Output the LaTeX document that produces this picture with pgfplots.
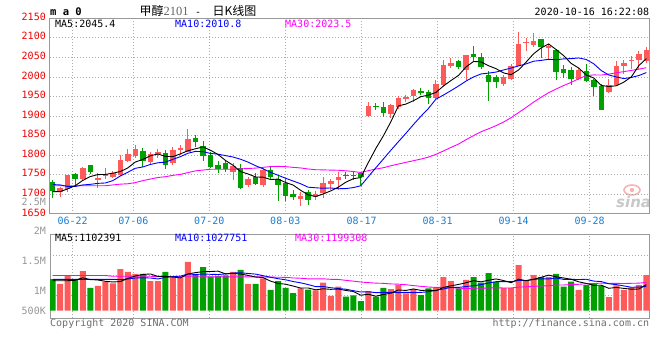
\documentclass[border=0pt]{standalone}
\usepackage{fontspec}
\setmainfont{DejaVu Sans}
\setmonofont{DejaVu Sans Mono}
\newfontfamily\cjk{Noto Sans CJK SC}
\newfontfamily\lserif{Liberation Serif}
\usepackage{pgfplots}
\usepackage{pgfplotstable}
\pgfplotsset{compat=1.18}

\definecolor{cup}{RGB}{255,90,90}
\definecolor{cdn}{RGB}{0,160,0}
\definecolor{gridc}{RGB}{170,170,170}
\definecolor{framec}{RGB}{153,153,153}
\definecolor{datec}{RGB}{25,125,210}
\definecolor{pricec}{RGB}{240,0,0}
\definecolor{volc}{RGB}{150,150,150}
\definecolor{ma10c}{RGB}{0,0,255}
\definecolor{ma30c}{RGB}{255,0,255}
\definecolor{titgray}{RGB}{100,100,100}
\definecolor{cpc}{RGB}{110,110,110}
\definecolor{wmc}{RGB}{200,200,200}
\definecolor{wmpink}{RGB}{245,180,180}

\newcommand{\mf}{\ttfamily\fontsize{10bp}{12bp}\selectfont}

% up (red) candles: index, open, high, low, close, volume
\pgfplotstableread{
i O H L C V
1 1707 1720 1693 1716 1136000
2 1714 1750 1707 1749 1508000
4 1738 1771 1733 1766 1678000
6 1737 1754 1716 1741 1051000
7 1747 1766 1738 1751 1237000
8 1744 1760 1742 1755 1153000
9 1749 1801 1746 1787 1763000
10 1786 1816 1782 1804 1644000
11 1797 1826 1794 1816 1559000
13 1782 1808 1778 1802 1254000
14 1803 1816 1792 1809 1254000
16 1779 1820 1775 1813 1407000
17 1813 1826 1801 1819 1407000
18 1809 1866 1808 1842 2068000
24 1758 1780 1737 1773 1644000
26 1724 1744 1719 1740 1136000
28 1723 1766 1720 1762 1373000
33 1687 1706 1670 1695 949000
35 1693 1708 1685 1702 864000
36 1703 1744 1691 1729 1186000
37 1726 1740 1710 1733 627000
38 1736 1757 1710 1743 1017000
42 1900 1935 1898 1925 831000
45 1905 1930 1896 1928 915000
46 1923 1951 1919 1946 1085000
47 1943 1955 1937 1948 729000
48 1950 1970 1936 1966 915000
51 1947 1991 1944 1981 983000
52 1980 2044 1977 2030 1424000
53 2028 2049 2024 2036 1254000
55 2018 2057 1993 2055 1305000
60 1981 2004 1976 2001 966000
61 1994 2032 1991 2029 966000
62 2028 2116 2027 2085 1932000
63 2086 2099 2066 2088 1254000
64 2082 2113 2076 2093 1508000
66 2075 2085 2042 2079 1424000
70 1994 2023 1991 2017 881000
74 1962 1994 1959 1980 576000
75 1979 2040 1976 2027 1068000
76 2028 2044 2008 2036 881000
77 2040 2053 2021 2042 983000
78 2044 2065 2021 2058 1085000
79 2041 2076 2036 2070 1508000
}\up

% down (green) candles
\pgfplotstableread{
i O H L C V
0 1732 1737 1690 1708 1339000
3 1752 1755 1725 1739 1305000
5 1775 1776 1751 1757 966000
12 1811 1819 1770 1784 1559000
15 1806 1813 1765 1774 1644000
19 1843 1852 1822 1834 1542000
20 1824 1835 1784 1797 1847000
21 1801 1809 1767 1771 1441000
22 1775 1784 1755 1765 1475000
23 1781 1788 1758 1765 1492000
25 1768 1777 1714 1717 1729000
27 1743 1755 1723 1727 1136000
29 1762 1770 1736 1743 881000
30 1740 1746 1683 1723 1254000
31 1729 1740 1682 1696 966000
32 1700 1710 1686 1694 746000
34 1706 1710 1674 1685 898000
39 1749 1757 1738 1747 593000
40 1750 1759 1737 1748 644000
41 1755 1758 1724 1743 407000
43 1925 1933 1915 1923 593000
44 1923 1935 1898 1908 966000
49 1965 1971 1953 1960 661000
50 1961 1967 1932 1947 949000
54 2040 2042 2021 2025 949000
56 2059 2080 2038 2051 1424000
57 2052 2062 2021 2025 1186000
58 2006 2014 1938 1987 1593000
59 2001 2005 1972 1987 1220000
65 2096 2097 2049 2076 1424000
67 2070 2072 1993 2013 1559000
68 2019 2031 1996 2010 1017000
69 2017 2025 1980 1994 1237000
71 2014 2034 1987 1990 1085000
72 1991 1994 1951 1975 1153000
73 1976 1983 1915 1915 1051000
}\dn

% moving averages: price MA5/10/30, volume MA5/10/30
\pgfplotstableread{
i m5 m10 m30 v5 v10 v30
0 1707 1725 1722 1270000 1330000 1490000
1 1707 1724 1722 1270000 1330000 1490000
2 1714 1720 1722 1270000 1330000 1490000
3 1722 1720 1722 1290000 1330000 1490000
4 1735.6 1724 1722 1393000 1330000 1490000
5 1745.4 1725.5 1722 1319000 1330000 1490000
6 1750.4 1728 1722 1302000 1330000 1490000
7 1750.8 1729 1722 1247000 1330000 1490000
8 1754.0 1735 1724 1217000 1330000 1460000
9 1758.2 1746.9 1726 1234000 1314000 1460000
10 1767.6 1756.5 1727 1369000 1344000 1460000
11 1782.6 1766.5 1730 1471000 1386000 1460000
12 1789.2 1770.0 1735 1536000 1392000 1460000
13 1798.6 1776.3 1739 1556000 1386000 1460000
14 1803.0 1780.6 1743 1454000 1344000 1440000
15 1797.0 1782.3 1745 1454000 1412000 1440000
16 1796.4 1789.5 1748.5 1424000 1447000 1440000
17 1803.4 1796.3 1751 1393000 1464000 1440000
18 1811.4 1805.0 1755.5 1556000 1556000 1440000
19 1816.4 1809.7 1760 1614000 1534000 1440000
20 1821.0 1809.0 1762 1654000 1554000 1440000
21 1812.6 1804.5 1764 1661000 1542000 1430000
22 1801.8 1802.6 1764 1675000 1534000 1430000
23 1786.4 1798.9 1764 1559000 1558000 1430000
24 1774.2 1795.3 1764 1580000 1597000 1430000
25 1758.2 1789.6 1765 1556000 1605000 1430000
26 1752.0 1782.3 1766 1495000 1578000 1430000
27 1744.4 1773.1 1767 1427000 1551000 1430000
28 1743.8 1765.1 1769 1403000 1482000 1430000
29 1737.8 1756.0 1770.9 1251000 1415000 1421000
30 1739.0 1748.6 1771.4 1156000 1356000 1418000
31 1730.2 1741.1 1770.7 1122000 1309000 1412000
32 1723.6 1734.0 1768.9 1044000 1236000 1387000
33 1710.2 1727.0 1767.4 959000 1181000 1375000
34 1698.6 1718.2 1764.7 963000 1107000 1349000
35 1694.4 1716.7 1762.9 885000 1020000 1346000
36 1701.0 1715.6 1762.5 929000 1025000 1350000
37 1708.8 1716.2 1761.9 905000 974000 1330000
38 1718.4 1714.3 1761.5 919000 939000 1325000
39 1730.8 1714.7 1760.1 858000 910000 1286000
40 1740.0 1717.2 1758.3 814000 849000 1253000
41 1742.8 1721.9 1755.8 658000 793000 1215000
42 1781.2 1745.0 1760.5 698000 802000 1190000
43 1817.2 1767.8 1764.6 614000 766000 1168000
44 1849.4 1790.1 1767.9 688000 773000 1159000
45 1885.4 1812.7 1773.0 742000 778000 1134000
46 1926.0 1834.4 1777.4 878000 768000 1124000
47 1930.6 1855.9 1781.7 858000 778000 1101000
48 1939.2 1878.2 1785.9 922000 768000 1063000
49 1949.6 1899.5 1790.1 861000 775000 1033000
50 1953.4 1919.4 1795.1 868000 805000 1003000
51 1960.4 1943.2 1802.1 847000 863000 988000
52 1976.8 1953.7 1810.9 986000 922000 986000
53 1990.8 1965.0 1819.9 1054000 988000 979000
54 2003.8 1976.7 1828.3 1112000 986000 955000
55 2025.4 1989.4 1839.6 1183000 1025000 941000
56 2039.4 1999.9 1850.0 1271000 1059000 951000
57 2038.4 2007.6 1859.9 1224000 1105000 952000
58 2028.6 2009.7 1867.4 1292000 1173000 960000
59 2021.0 2012.4 1875.5 1346000 1229000 971000
60 2010.2 2017.8 1884.8 1278000 1230000 962000
61 2005.8 2022.6 1895.9 1186000 1229000 962000
62 2017.8 2028.1 1908.9 1336000 1280000 1001000
63 2038.0 2033.3 1922.0 1268000 1280000 1011000
64 2059.2 2040.1 1935.6 1325000 1335000 1032000
65 2074.2 2042.2 1948.1 1417000 1347000 1050000
66 2084.2 2045.0 1959.8 1508000 1347000 1058000
67 2069.8 2043.8 1969.1 1434000 1385000 1089000
68 2054.2 2046.1 1978.0 1386000 1327000 1089000
69 2034.4 2046.8 1986.2 1332000 1329000 1111000
70 2022.6 2048.4 1995.2 1224000 1320000 1119000
71 2004.8 2044.5 2003.4 1156000 1332000 1141000
72 1997.2 2033.5 2005.1 1075000 1254000 1152000
73 1978.2 2016.2 2004.8 1081000 1234000 1167000
74 1975.4 2004.9 2007.2 949000 1141000 1154000
75 1977.4 2000.0 2010.5 986000 1105000 1159000
76 1986.6 1995.7 2013.5 946000 1051000 1152000
77 2000.2 1998.7 2016.6 912000 993000 1161000
78 2028.8 2003.5 2019.7 919000 1000000 1167000
79 2046.8 2011.1 2023.5 1105000 1027000 1199000
}\ma

\pgfplotsset{
  sinagrid/.style={
    grid=major,
    major grid style={draw=gridc, line width=0.8bp, dash pattern=on 1bp off 2bp},
    axis line style={draw=framec, line width=1bp},
    tick style={draw=none},
    major tick length=0pt,
    scale only axis,
    anchor=south west,
    width=599.3bp,
    xmin=-0.36, xmax=79.39,
    xtick={2.661,10.725,20.838,30.951,41.118,51.231,61.344,71.457},
  },
}

\begin{document}
\begin{tikzpicture}
\useasboundingbox (0,0) rectangle (660bp,360bp);

% watermark
\draw[wmpink, line width=1.6bp] (632bp,170bp) ellipse (8bp and 5bp);
\fill[wmpink] (632bp,170bp) circle (2.2bp);
\node[anchor=base west, inner sep=0pt, text=wmc, font=\bfseries\itshape\fontsize{15bp}{16bp}\selectfont] at (616bp,152bp) {sina};

% price panel
\begin{axis}[sinagrid,
  at={(50bp,146.1bp)}, height=195.7bp,
  ymin=1650, ymax=2150,
  xticklabels={06-22,07-06,07-20,08-03,08-17,08-31,09-14,09-28},
  ytick={1650,1700,1750,1800,1850,1900,1950,2000,2050,2100,2150},
  yticklabels={1650,1700,1750,1800,1850,1900,1950,2000,2050,2100,2150},
  xticklabel style={font=\mf, text=datec, anchor=north, inner sep=0pt, yshift=-3.2bp},
  yticklabel style={font=\mf, text=pricec, anchor=east, inner sep=0pt, xshift=-4bp, yshift=1.5bp},
]
% wicks
\addplot [draw=none, mark=none, error bars/.cd, y dir=plus, y explicit, error mark=none,
  error bar style={draw=cup, solid, line width=1bp}]
  table [x=i, y=L, y error expr=\thisrow{H}-\thisrow{L}] {\up};
\addplot [draw=none, mark=none, error bars/.cd, y dir=plus, y explicit, error mark=none,
  error bar style={draw=cdn, solid, line width=1bp}]
  table [x=i, y=L, y error expr=\thisrow{H}-\thisrow{L}] {\dn};
% bodies
\addplot [draw=none, mark=none, error bars/.cd, y dir=plus, y explicit, error mark=none,
  error bar style={draw=cup, solid, line width=5.5bp}]
  table [x=i, y=O, y error expr=\thisrow{C}-\thisrow{O}] {\up};
\addplot [draw=none, mark=none, error bars/.cd, y dir=plus, y explicit, error mark=none,
  error bar style={draw=cdn, solid, line width=5.5bp}]
  table [x=i, y=C, y error expr=\thisrow{O}-\thisrow{C}] {\dn};
% moving averages
\addplot [ma30c, line width=0.9bp, mark=none] table [x=i, y=m30] {\ma};
\addplot [ma10c, line width=0.9bp, mark=none] table [x=i, y=m10] {\ma};
\addplot [black, line width=0.9bp, mark=none] table [x=i, y=m5] {\ma};
\end{axis}

% volume panel
\begin{axis}[sinagrid,
  at={(50bp,41.7bp)}, height=84bp,
  ymin=-322000, ymax=3237000,
  scaled y ticks=false,
  ytick={653000,1500000,2347000},
  xticklabels={}, yticklabels={},
]
\addplot [ybar, bar width=6bp, bar shift=0pt, fill=cup, draw=none] table [x=i, y=V] {\up};
\addplot [ybar, bar width=6bp, bar shift=0pt, fill=cdn, draw=none] table [x=i, y=V] {\dn};
\addplot [ma30c, line width=0.9bp, mark=none] table [x=i, y=v30] {\ma};
\addplot [ma10c, line width=0.9bp, mark=none] table [x=i, y=v10] {\ma};
\addplot [black, line width=0.9bp, mark=none] table [x=i, y=v5] {\ma};
\end{axis}

% header
\node[anchor=base west, inner sep=0pt, font=\ttfamily\bfseries\fontsize{10.5bp}{12bp}\selectfont] at (50bp,344bp) {m a 0};
\node[anchor=base west, inner sep=0pt, font=\cjk\fontsize{12bp}{14bp}\selectfont] at (139.5bp,344bp) {甲醇};
\node[anchor=base west, inner sep=0pt, font=\lserif\fontsize{12.5bp}{14bp}\selectfont, text=titgray] at (163.5bp,344bp) {2101};
\node[anchor=base west, inner sep=0pt, font=\mf] at (195bp,344bp) {-};
\node[anchor=base west, inner sep=0pt, font=\cjk\fontsize{12bp}{14bp}\selectfont] at (212.5bp,344bp) {日K线图};
\node[anchor=base east, inner sep=0pt, font=\mf] at (649.3bp,344bp) {2020-10-16 16:22:08};

% MA legends
\node[anchor=base west, inner sep=0pt, font=\mf] at (55bp,332.7bp) {MA5:2045.4};
\node[anchor=base west, inner sep=0pt, font=\mf, text=ma10c] at (175bp,332.7bp) {MA10:2010.8};
\node[anchor=base west, inner sep=0pt, font=\mf, text=ma30c] at (285bp,332.7bp) {MA30:2023.5};
\node[anchor=base west, inner sep=0pt, font=\mf] at (55bp,118.3bp) {MA5:1102391};
\node[anchor=base west, inner sep=0pt, font=\mf, text=ma10c] at (175bp,118.3bp) {MA10:1027751};
\node[anchor=base west, inner sep=0pt, font=\mf, text=ma30c] at (295bp,118.3bp) {MA30:1199308};

% volume scale labels
\node[anchor=east, inner sep=0pt, font=\mf, text=volc] at (46bp,157.8bp) {2.5M};
\node[anchor=east, inner sep=0pt, font=\mf, text=volc] at (46bp,129.3bp) {2M};
\node[anchor=east, inner sep=0pt, font=\mf, text=volc] at (46bp,99.3bp) {1.5M};
\node[anchor=east, inner sep=0pt, font=\mf, text=volc] at (46bp,69.3bp) {1M};
\node[anchor=east, inner sep=0pt, font=\mf, text=volc] at (46bp,49.3bp) {500K};

% footer
\node[anchor=base west, inner sep=0pt, font=\mf, text=cpc] at (50bp,34bp) {Copyright 2020 SINA.COM};
\node[anchor=base east, inner sep=0pt, font=\mf, text=cpc] at (649.3bp,34bp) {http://finance.sina.com.cn};
\end{tikzpicture}
\end{document}
